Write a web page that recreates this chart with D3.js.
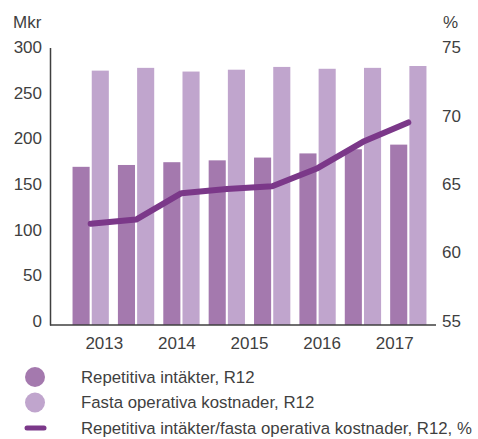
<!DOCTYPE html>
<html>
<head>
<meta charset="utf-8">
<script src="https://cdn.jsdelivr.net/npm/d3@7"></script>
<style>
  body { margin: 0; background: #fff; }
  text { font-family: "Liberation Sans", Arial, sans-serif; fill: #3f3f3f; }
</style>
</head>
<body>
<script>
// data
var periods = ["p1", "p2", "p3", "p4", "p5", "p6", "p7", "p8"];
var years = ["2013", "2014", "2015", "2016", "2017"];
var repetitiva = [171, 173, 176, 178, 181, 185.5, 190, 195];
var fasta = [275, 278, 274, 276, 279, 277, 278, 280];
var ratio = [62.3, 62.6, 64.5, 64.8, 65.0, 66.3, 68.2, 69.6];
var leftTicks = [0, 50, 100, 150, 200, 250, 300];
var rightTicks = [55, 60, 65, 70, 75];

var width = 478, height = 439;
// plot box (window.top is reserved, so no "top" here)
var plotLeft = 50, plotRight = 436, plotTop = 47.5, plotBottom = 325;

var svg = d3.select("body").append("svg")
    .attr("width", width)
    .attr("height", height);

var x0 = d3.scaleBand().domain(periods).range([68, 431])
    .paddingInner(0.2).paddingOuter(0.1);
var x1 = d3.scaleBand().domain(["rep", "fas"]).range([0, x0.bandwidth()])
    .paddingInner(0.11);
var xYear = d3.scaleBand().domain(years).range([68, 431]);

var yL = d3.scaleLinear().domain([0, 300]).range([plotBottom, plotTop]);
var yR = d3.scaleLinear().domain([55, 75]).range([plotBottom, plotTop]);

var dark = "#a479ae", light = "#c0a5cd", lineCol = "#7b3889";

// bars
var groups = svg.selectAll("g.grp")
    .data(periods)
    .enter().append("g")
    .attr("class", "grp")
    .attr("transform", function(d) { return "translate(" + x0(d) + ",0)"; });

groups.append("rect")
    .attr("x", x1("rep"))
    .attr("width", x1.bandwidth())
    .attr("y", function(d, i) { return yL(repetitiva[i]); })
    .attr("height", function(d, i) { return plotBottom - yL(repetitiva[i]); })
    .attr("fill", dark);

groups.append("rect")
    .attr("x", x1("fas"))
    .attr("width", x1.bandwidth())
    .attr("y", function(d, i) { return yL(fasta[i]); })
    .attr("height", function(d, i) { return plotBottom - yL(fasta[i]); })
    .attr("fill", light);

// ratio line
var line = d3.line()
    .x(function(d, i) { return x0(periods[i]) + x0.bandwidth() / 2; })
    .y(function(d) { return yR(d); });

svg.append("path")
    .datum(ratio)
    .attr("d", line)
    .attr("fill", "none")
    .attr("stroke", lineCol)
    .attr("stroke-width", 6)
    .attr("stroke-linecap", "round")
    .attr("stroke-linejoin", "round");

// axes
var axisL = svg.append("g").attr("transform", "translate(" + plotLeft + ",0)")
    .call(d3.axisLeft(yL).tickValues(leftTicks).tickSize(0).tickPadding(8));
axisL.select(".domain").attr("stroke", "#3f3f3f").attr("stroke-width", 1.5);

var axisR = svg.append("g").attr("transform", "translate(" + (plotRight + 6) + ",0)")
    .call(d3.axisRight(yR).tickValues(rightTicks).tickSize(0).tickPadding(0));
axisR.select(".domain").remove();

var axisB = svg.append("g").attr("transform", "translate(0," + plotBottom + ")")
    .call(d3.axisBottom(xYear).tickSize(0).tickPadding(12));
axisB.select(".domain").remove();

svg.append("line")
    .attr("x1", plotLeft).attr("x2", plotRight)
    .attr("y1", plotBottom).attr("y2", plotBottom)
    .attr("stroke", "#3f3f3f").attr("stroke-width", 1.5);

svg.selectAll(".tick text")
    .style("font-size", "17px")
    .attr("fill", "#3f3f3f")
    .style("font-family", "'Liberation Sans', Arial, sans-serif");
// labels sit a little above their gridline lower down the axis
axisL.selectAll(".tick text").attr("dy", function(d) { return (0.3 - (300 - d) / 300 * 0.22) + "em"; });
axisR.selectAll(".tick text").attr("dy", function(d) { return (0.3 - (75 - d) / 20 * 0.22) + "em"; });

// unit labels
svg.append("text").attr("x", 13).attr("y", 28).style("font-size", "17px").text("Mkr");
svg.append("text").attr("x", 443).attr("y", 28).style("font-size", "17px").text("%");

// legend
var legendItems = [
  { label: "Repetitiva intäkter, R12", color: dark, type: "dot" },
  { label: "Fasta operativa kostnader, R12", color: light, type: "dot" },
  { label: "Repetitiva intäkter/fasta operativa kostnader, R12, %", color: lineCol, type: "line" }
];

var leg = svg.selectAll("g.leg")
    .data(legendItems)
    .enter().append("g")
    .attr("class", "leg")
    .attr("transform", function(d, i) { return "translate(0," + (377 + i * 25.5) + ")"; });

leg.filter(function(d) { return d.type === "dot"; })
    .append("circle")
    .attr("cx", 35).attr("cy", 0).attr("r", 10)
    .attr("fill", function(d) { return d.color; });

leg.filter(function(d) { return d.type === "line"; })
    .append("line")
    .attr("x1", 27).attr("x2", 44).attr("y1", 0).attr("y2", 0)
    .attr("stroke", function(d) { return d.color; })
    .attr("stroke-width", 5)
    .attr("stroke-linecap", "round");

leg.append("text")
    .attr("x", 81).attr("y", 0).attr("dy", "0.35em")
    .style("font-size", "16.8px")
    .text(function(d) { return d.label; });
</script>
</body>
</html>
